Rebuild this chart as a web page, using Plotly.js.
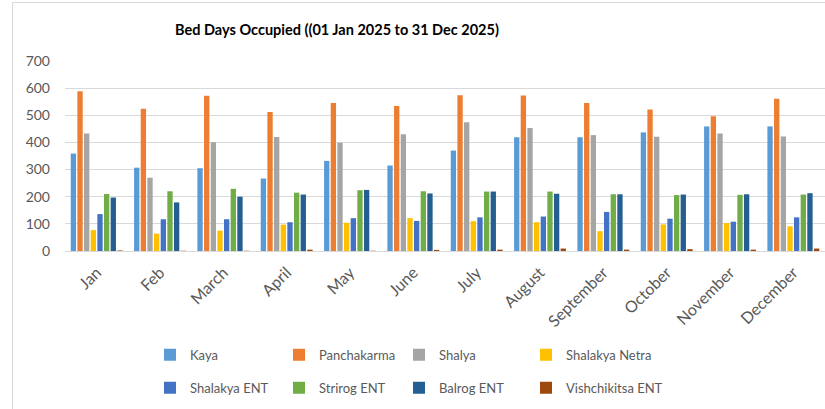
<!DOCTYPE html>
<html><head><meta charset="utf-8">
<script src="https://cdn.plot.ly/plotly-3.0.1.min.js"></script>
<style>
html,body{margin:0;padding:0;background:#fff;}
#wrap{position:relative;width:825px;height:409px;overflow:hidden;}
#chart{position:absolute;left:0;top:0;width:825px;height:409px;}
#frame{position:absolute;left:12px;top:2px;width:900px;height:500px;border-left:1px solid #d9d9d9;border-top:1px solid #d9d9d9;pointer-events:none;}
</style></head>
<body><div id="wrap"><div id="chart"></div><div id="frame"></div></div>
<script>
const months = ["Jan","Feb","March","April","May","June","July","August","September","October","November","December"];
const kaya         = [359,307,305,267,332,315,370,419,419,437,459,459];
const panchakarma  = [589,524,572,512,545,534,574,573,545,521,496,561];
const shalya       = [433,270,401,420,399,430,474,453,427,421,433,422];
const shalakyaNetra= [77,64,75,97,104,121,110,106,73,98,103,91];
const shalakyaENT  = [136,117,117,106,121,111,124,127,144,119,108,124];
const strirogENT   = [210,220,229,215,224,220,219,219,209,206,207,208];
const balrogENT    = [197,179,200,208,225,212,219,211,209,208,209,213];
const vishchikitsaENT = [2,1,1,5,1,4,5,9,5,7,5,9];

const seriesNames = ["Kaya","Panchakarma","Shalya","Shalakya Netra","Shalakya ENT","Strirog ENT","Balrog ENT","Vishchikitsa ENT"];
const seriesData = [kaya,panchakarma,shalya,shalakyaNetra,shalakyaENT,strirogENT,balrogENT,vishchikitsaENT];
const colors = ["#5B9BD5","#ED7D31","#A5A5A5","#FFC000","#4472C4","#70AD47","#255E91","#9E480E"];
const legendIds = ['legend','legend2','legend3','legend4'];

const traces = seriesNames.map((n,i)=>({
  type:'bar', name:n, x:months, y:seriesData[i],
  marker:{color:colors[i]},
  legend: legendIds[i % 4],
  legendgroup: 'g'+i,
  hoverinfo:'x+y+name'
}));

const font = "Lato, 'Open Sans', sans-serif";
function mkLegend(textX){
  return {
    orientation:'v', xanchor:'left', yanchor:'middle',
    x:(textX-41-65)/760, y:(251.3-372)/190.6,
    font:{family:font,size:13,color:'#595959'},
    itemwidth:30, tracegroupgap:13,
    bgcolor:'rgba(0,0,0,0)', borderwidth:0, traceorder:'grouped'
  };
}

const layout = {
  width:825, height:409,
  margin:{l:65,r:0,t:60.7,b:157.7,pad:0},
  paper_bgcolor:'#fff', plot_bgcolor:'#fff',
  font:{family:font,color:'#595959'},
  title:{text:'<b>Bed Days Occupied ((01 Jan 2025 to 31 Dec 2025)</b>',
         font:{family:font,size:14.5,color:'#000'},
         x:337/825, xref:'container', xanchor:'center',
         y:1-30/409, yref:'container', yanchor:'middle'},
  barmode:'group', bargap:0.16, bargroupgap:0.2,
  xaxis:{type:'category', tickangle:-45, tickfont:{family:font,size:16,color:'#595959'},
         showgrid:false, showline:true, linecolor:'#d9d9d9', linewidth:1, ticks:'', ticklabelstandoff:5},
  yaxis:{range:[0,700], dtick:100, tick0:0, showgrid:true, gridcolor:'#d9d9d9', gridwidth:1,
         zeroline:false, showline:false, ticks:'', tickfont:{family:font,size:14,color:'#595959'},
         ticklabelstandoff:14},
  legend:mkLegend(191),
  legend2:mkLegend(320),
  legend3:mkLegend(440),
  legend4:mkLegend(567),
  showlegend:true
};

Plotly.newPlot('chart', traces, layout, {displayModeBar:false, staticPlot:true});
</script></body></html>
